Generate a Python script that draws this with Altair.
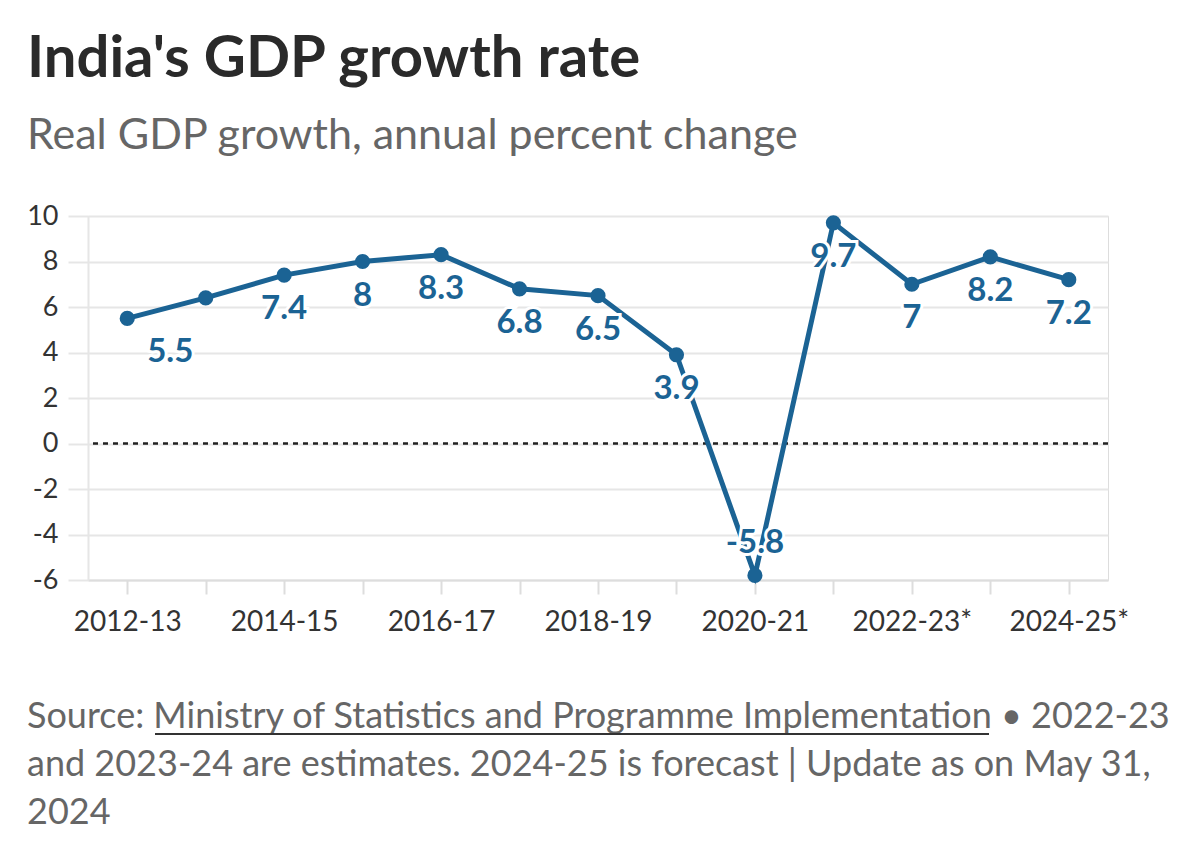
import json
import altair as alt
import pandas as pd

years = ["2012-13", "2013-14", "2014-15", "2015-16", "2016-17", "2017-18", "2018-19",
         "2019-20", "2020-21", "2021-22", "2022-23*", "2023-24*", "2024-25*"]
growth = [5.5, 6.4, 7.4, 8.0, 8.3, 6.8, 6.5, 3.9, -5.8, 9.7, 7.0, 8.2, 7.2]
labels = ["5.5", "", "7.4", "8", "8.3", "6.8", "6.5", "3.9", "-5.8", "9.7", "7", "8.2", "7.2"]
shown_years = ["2012-13", "2014-15", "2016-17", "2018-19", "2020-21", "2022-23*", "2024-25*"]
y_ticks = [-6, -4, -2, 0, 2, 4, 6, 8, 10]
zero_line = [0]

title = "India's GDP growth rate"
subtitle = "Real GDP growth, annual percent change"
footer = ["Source: Ministry of Statistics and Programme Implementation \u2022 2022-23",
          "and 2023-24 are estimates. 2024-25 is forecast | Update as on May 31,",
          "2024"]

FONT = "Lato"
BLUE = "#1b6394"
W, H = 1020, 364

df = pd.DataFrame({"year": years, "growth": growth, "label": labels})

x = alt.X("year:N", sort=years, title=None,
          scale=alt.Scale(type="point", padding=0.5),
          axis=alt.Axis(labelExpr=f"indexof({json.dumps(shown_years)}, datum.value) >= 0 ? datum.value : ''",
                        labelAngle=0, labelFont=FONT, labelFontSize=28, labelColor="#333",
                        labelPadding=14, tickSize=14, tickColor="#dddddd", tickWidth=2,
                        domainColor="#dddddd", domainWidth=2, grid=False))
y = alt.Y("growth:Q", title=None,
          scale=alt.Scale(domain=[-6, 10], nice=False, zero=False),
          axis=alt.Axis(values=y_ticks, labelExpr="datum.value + ''",
                        labelFont=FONT, labelFontSize=27, labelColor="#333",
                        labelPadding=10, tickSize=20, tickColor="#e6e6e6", tickWidth=2,
                        gridColor="#e6e6e6", gridWidth=2, domainColor="#e6e6e6", domainWidth=2))

base = alt.Chart(df)

line = base.mark_line(color=BLUE, strokeWidth=5).encode(x=x, y=y)
pts = base.mark_point(filled=True, color=BLUE, size=230, opacity=1).encode(x=x, y=y)

zero = alt.Chart(pd.DataFrame({"z": zero_line})).mark_rule(
    color="#222", strokeDash=[5, 5], strokeWidth=2.5
).encode(y=alt.Y("z:Q"))

first = base.transform_filter(alt.datum.year == years[0])
pos = base.transform_filter(f"datum.growth >= 0 && datum.year != '{years[0]}'")
neg = base.transform_filter("datum.growth < 0")

def label_layers(src, dy, dx=0):
    halo = src.mark_text(font=FONT, fontSize=33, fontWeight="bold", dy=dy, dx=dx,
                         stroke="white", strokeWidth=6, color="white").encode(
        x=x, y=y, text="label:N")
    txt = src.mark_text(font=FONT, fontSize=33, fontWeight="bold", dy=dy, dx=dx,
                        color=BLUE).encode(x=x, y=y, text="label:N")
    return [halo, txt]

foot = alt.Chart(pd.DataFrame({"t": [0]})).mark_text(
    text=footer, font=FONT, fontSize=36, color="#666", align="left",
    baseline="alphabetic", lineHeight=48
).encode(x=alt.value(-61), y=alt.value(512))

underline = alt.Chart(pd.DataFrame({"t": [0]})).mark_rule(
    color="#333", strokeWidth=2
).encode(x=alt.value(67), x2=alt.value(901), y=alt.value(518))

chart = alt.layer(
    zero, line, pts, *label_layers(first, 34, 43), *label_layers(pos, 34),
    *label_layers(neg, -32), foot, underline
).properties(
    width=W, height=H,
    title=alt.TitleParams(text=title, subtitle=subtitle, anchor="start", frame="group",
                          dx=-61, offset=44, font=FONT, fontSize=58, fontWeight="bold",
                          color="#2a2a2a", subtitleFont=FONT, subtitleFontSize=43,
                          subtitleColor="#666", subtitlePadding=26),
    autosize=alt.AutoSizeParams(type="none"),
    padding={"left": 88, "top": 216, "right": 92, "bottom": 284},
).configure_view(stroke=None).configure(background="white")

chart.save("out.html", embed_options={"renderer": "svg", "actions": False})
